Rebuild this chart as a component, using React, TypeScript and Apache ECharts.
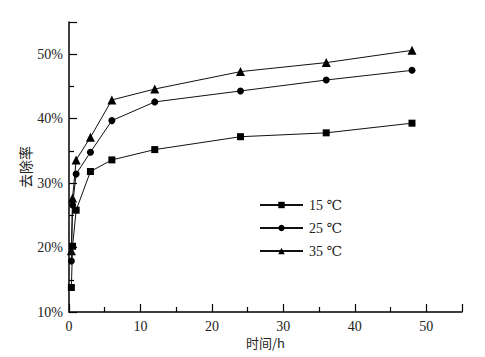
import React, { useEffect, useRef } from "react";
import * as echarts from "echarts";

const timeH = [0.33, 0.5, 1, 3, 6, 12, 24, 36, 48];
const removal15 = [13.8, 20.2, 25.8, 31.8, 33.6, 35.2, 37.2, 37.8, 39.3];
const removal25 = [17.9, 26.6, 31.4, 34.8, 39.7, 42.6, 44.3, 46.0, 47.5];
const removal35 = [19.5, 27.7, 33.6, 37.1, 42.9, 44.6, 47.3, 48.7, 50.6];
const seriesNames = ["15 ℃", "25 ℃", "35 ℃"];
const symbols = ["rect", "circle", "triangle"];

const FONT = "'Liberation Serif', 'Times New Roman', 'DejaVu Serif', serif";
const CJK = "'Noto Sans CJK SC', sans-serif";

export default function App() {
  const ref = useRef<HTMLDivElement>(null);
  useEffect(() => {
    if (!ref.current) return;
    const chart = echarts.init(ref.current, undefined, { renderer: "svg" });
    const all = [removal15, removal25, removal35];
    chart.setOption({
      animation: false,
      backgroundColor: "#fff",
      textStyle: { fontFamily: FONT },
      grid: { left: 69, right: 23, top: 22, bottom: 45, containLabel: false },
      legend: {
        orient: "vertical",
        left: 259,
        top: 198,
        padding: 0,
        itemWidth: 43,
        itemHeight: 8,
        itemGap: 9,
        textStyle: { fontFamily: FONT, fontSize: 14, color: "#222", padding: [0, 0, 0, 1] },
        data: seriesNames,
      },
      xAxis: {
        type: "value",
        min: 0,
        max: 55,
        interval: 10,
        name: "时间/h",
        nameLocation: "middle",
        nameGap: 24,
        nameMoveOverlap: false,
        nameTextStyle: { fontFamily: CJK, fontSize: 13, color: "#222" },
        axisLine: { show: true, lineStyle: { color: "#000", width: 1.5 } },
        axisTick: { show: true, inside: true, length: 8, lineStyle: { color: "#000", width: 1.2 } },
        minorTick: { show: true, splitNumber: 2, length: 5, lineStyle: { color: "#000", width: 1.2 } },
        axisLabel: {
          fontFamily: FONT,
          fontSize: 14,
          color: "#222",
          margin: 7,
          showMaxLabel: false,
          formatter: (v: number) => (v > 50 ? "" : String(v)),
        },
        splitLine: { show: false },
      },
      yAxis: {
        type: "value",
        min: 10,
        max: 55,
        interval: 10,
        name: "去除率",
        nameLocation: "middle",
        nameRotate: 90,
        nameGap: 37,
        nameMoveOverlap: false,
        nameTextStyle: { fontFamily: CJK, fontSize: 14, color: "#222" },
        axisLine: { show: true, lineStyle: { color: "#000", width: 1.5 } },
        axisTick: { show: true, inside: true, length: 8, lineStyle: { color: "#000", width: 1.2 } },
        minorTick: { show: true, splitNumber: 2, length: 5, lineStyle: { color: "#000", width: 1.2 } },
        axisLabel: {
          fontFamily: FONT,
          fontSize: 14,
          color: "#222",
          margin: 6,
          showMaxLabel: false,
          formatter: (v: number) => (v > 50 ? "" : v + "%"),
        },
        splitLine: { show: false },
      },
      series: seriesNames.map((name, i) => ({
        name,
        type: "line",
        data: timeH.map((t, j) => [t, all[i][j]]),
        symbol: symbols[i],
        symbolSize: i === 2 ? 9 : 7,
        lineStyle: { color: "#111", width: 1 },
        itemStyle: { color: "#000" },
        z: 3 - i,
      })),
    });
    return () => chart.dispose();
  }, []);
  return <div ref={ref} style={{ width: 485, height: 357, position: "absolute", left: 0, top: 0 }} />;
}
